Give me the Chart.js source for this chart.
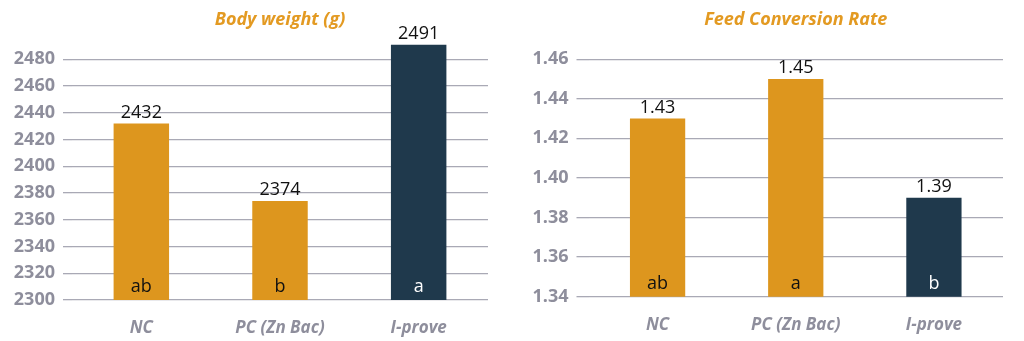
<!DOCTYPE html>
<html>
<head>
<meta charset="utf-8">
<script src="https://cdn.jsdelivr.net/npm/chart.js@4"></script>
<style>
    html, body { margin: 0; padding: 0; background: #fff; }
    .linha { display: flex; width: 1024px; height: 341px; }
    .caixa { position: relative; width: 512px; height: 341px; }
</style>
</head>
<body>
<div class="linha">
    <div class="caixa"><canvas id="grafPeso"></canvas></div>
    <div class="caixa"><canvas id="grafFcr"></canvas></div>
</div>
<script>
// dados
const grupos = ['NC', 'PC (Zn Bac)', 'I-prove'];
const pesoCorporal = [2432, 2374, 2491];
const letrasPeso = ['ab', 'b', 'a'];
const conversao = [1.43, 1.45, 1.39];
const letrasConversao = ['ab', 'a', 'b'];

const LARANJA = '#DD961E';
const AZUL = '#1F394C';
const coresBarras = [LARANJA, LARANJA, AZUL];
const coresLetras = ['#111111', '#111111', '#ffffff'];
const CINZA = '#8E8E9C';
const FONTE = "'Open Sans', 'Noto Sans', sans-serif";

// escreve o valor acima e a letra dentro de cada barra
const rotulosBarras = {
    id: 'rotulosBarras',
    afterDraw(chart) {
        const { ctx } = chart;
        const meta = chart.getDatasetMeta(0);
        const ds = chart.data.datasets[0];
        const fundo = chart.scales.y.getPixelForValue(chart.scales.y.min);
        ctx.save();
        ctx.font = `18px ${FONTE}`;
        ctx.textAlign = 'center';
        meta.data.forEach((barra, i) => {
            ctx.fillStyle = '#111111';
            ctx.textBaseline = 'bottom';
            ctx.fillText(ds.formato(ds.data[i]), barra.x, barra.y - 2);
            ctx.fillStyle = coresLetras[i];
            ctx.textBaseline = 'middle';
            ctx.fillText(ds.letras[i], barra.x, fundo - 13);
        });
        ctx.restore();
    }
};

function criarGrafico(canvasId, cfg) {
    const ctx = document.getElementById(canvasId).getContext('2d');
    return new Chart(ctx, {
        type: 'bar',
        data: {
            labels: grupos,
            datasets: [{
                data: cfg.valores,
                letras: cfg.letras,
                formato: cfg.formato,
                backgroundColor: coresBarras,
                barPercentage: 0.8,
                categoryPercentage: 0.5
            }]
        },
        options: {
            responsive: true,
            maintainAspectRatio: false,
            animation: false,
            layout: { padding: { left: 0, right: cfg.direita, top: 0, bottom: 0 } },
            plugins: {
                legend: { display: false },
                tooltip: { enabled: false },
                title: {
                    display: true,
                    text: cfg.titulo,
                    fullSize: false,
                    color: '#E39A22',
                    font: { family: FONTE, size: 18, weight: 'bold', style: 'italic' },
                    padding: { top: 9, bottom: cfg.tituloBaixo }
                }
            },
            scales: {
                x: {
                    grid: { display: false },
                    border: { display: false },
                    ticks: {
                        color: CINZA,
                        padding: 10,
                        font: { family: FONTE, size: 17, weight: 'bold', style: 'italic' }
                    },
                    afterFit: (eixo) => { eixo.height = cfg.alturaX; }
                },
                y: {
                    min: cfg.min,
                    max: cfg.max,
                    border: { display: false },
                    grid: {
                        color: '#A9A9B5',
                        lineWidth: 1.3,
                        drawTicks: true,
                        tickLength: cfg.traco
                    },
                    ticks: {
                        stepSize: cfg.passo,
                        color: CINZA,
                        padding: 8,
                        font: { family: FONTE, size: 18, weight: 'bold' },
                        callback: (v) => cfg.formatoEixo(v)
                    },
                    afterBuildTicks: (eixo) => {
                        eixo.ticks = eixo.ticks.filter(t => t.value <= cfg.ultimo + 1e-9);
                    },
                    afterFit: (eixo) => { eixo.width = cfg.larguraY; }
                }
            }
        },
        plugins: [rotulosBarras]
    });
}

criarGrafico('grafPeso', {
    titulo: 'Body weight (g)',
    valores: pesoCorporal,
    letras: letrasPeso,
    min: 2300, max: 2500, passo: 20, ultimo: 2480,
    formato: (v) => String(v),
    formatoEixo: (v) => String(v),
    tituloBaixo: 2,
    alturaX: 41,
    larguraY: 72,
    traco: 9,
    direita: 24
});

criarGrafico('grafFcr', {
    titulo: 'Feed Conversion Rate',
    valores: conversao,
    letras: letrasConversao,
    min: 1.34, max: 1.46, passo: 0.02, ultimo: 1.46,
    formato: (v) => v.toFixed(2),
    formatoEixo: (v) => Number(v).toFixed(2),
    tituloBaixo: 28.6,
    alturaX: 44.3,
    larguraY: 76.5,
    traco: 12,
    direita: 21
});
</script>
</body>
</html>
